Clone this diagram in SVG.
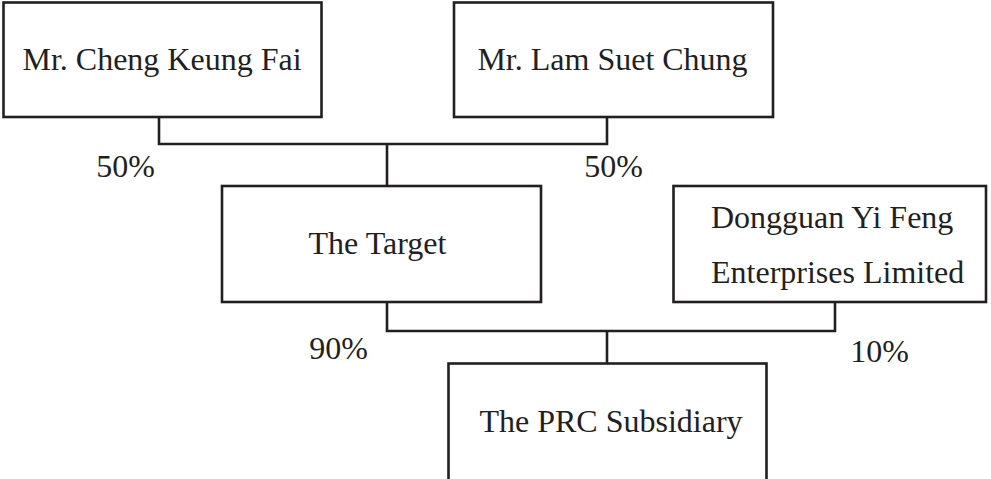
<svg xmlns="http://www.w3.org/2000/svg" width="991" height="479" viewBox="0 0 991 479">
<style>
.box{fill:#fff;stroke:#231f20;stroke-width:2.6}
.ln{fill:none;stroke:#231f20;stroke-width:2.6}
text{font-family:"Liberation Serif","Times New Roman",serif;font-size:32px;fill:#231f20}
.c{text-anchor:middle}
</style>
<rect width="991" height="479" fill="#fff"/>
<g id="connectors">
<polyline class="ln" points="159,117 159,144 607,144 607,117"/>
<line class="ln" x1="387" y1="144" x2="387" y2="186"/>
<polyline class="ln" points="387,302 387,331 835,331 835,302"/>
<line class="ln" x1="607" y1="331" x2="607" y2="363"/>
</g>
<g id="labels">
<text class="c" x="125.5" y="177">50%</text>
<text class="c" x="613.5" y="177">50%</text>
<text class="c" x="338.5" y="359">90%</text>
<text class="c" x="879.5" y="362">10%</text>
</g>
<g id="node-cheng">
<rect class="box" x="3.5" y="2.5" width="318" height="114.5"/>
<text class="c" x="162" y="70">Mr. Cheng Keung Fai</text>
</g>
<g id="node-lam">
<rect class="box" x="454" y="2.5" width="319" height="114.5"/>
<text class="c" x="612.5" y="70">Mr. Lam Suet Chung</text>
</g>
<g id="node-target">
<rect class="box" x="222" y="186" width="319" height="116"/>
<text class="c" x="377.5" y="254">The Target</text>
</g>
<g id="node-dongguan">
<rect class="box" x="673.5" y="186" width="312.5" height="116"/>
<text x="711" y="228">Dongguan Yi Feng</text>
<text x="711" y="283">Enterprises Limited</text>
</g>
<g id="node-prc">
<rect class="box" x="448.5" y="363.5" width="318" height="130"/>
<text class="c" x="611" y="431.5">The PRC Subsidiary</text>
</g>
</svg>
